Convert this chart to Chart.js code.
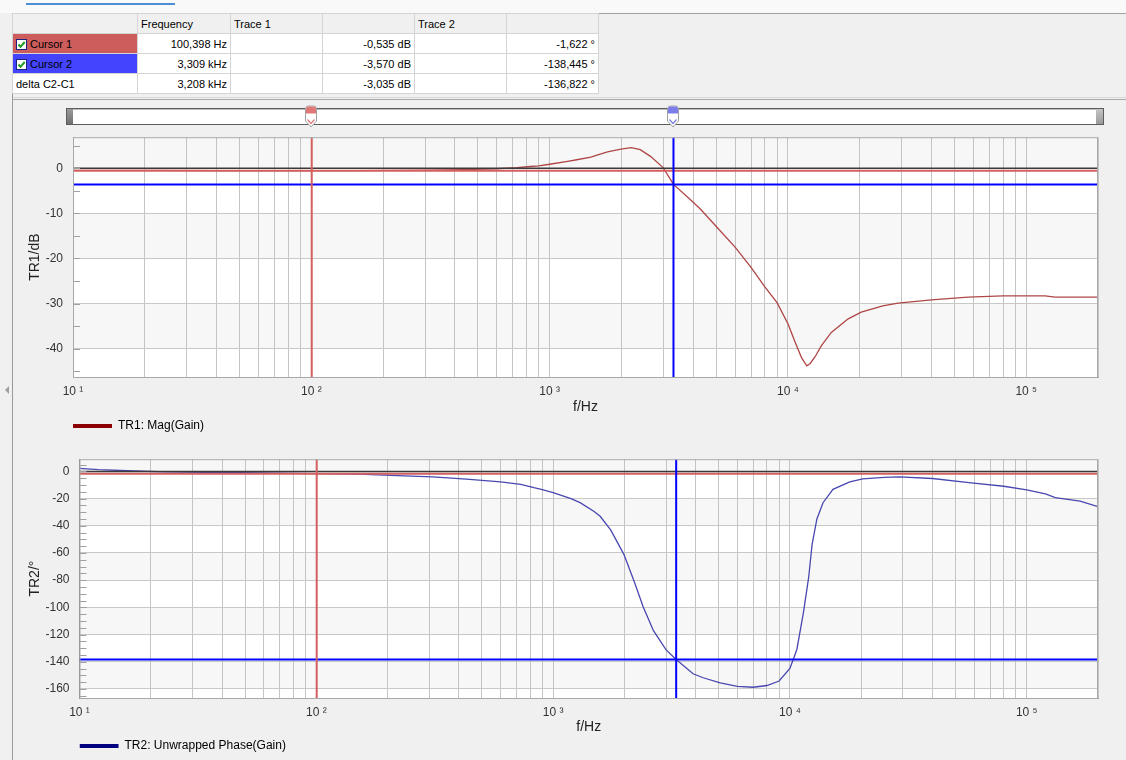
<!DOCTYPE html>
<html lang="en">
<head>
<meta charset="UTF-8">
<title>Bode 100 - Gain</title>
<script src="https://cdn.jsdelivr.net/npm/chart.js"></script>
<style>
    body {
        margin: 0;
        width: 1126px;
        height: 760px;
        overflow: hidden;
        position: relative;
        background: #f0f0f0;
        font-family: "Liberation Sans", Arial, sans-serif;
    }
    .topstrip { position: absolute; left: 0; top: 0; width: 1126px; height: 13px; background: #f9f9f9; }
    .tabline { position: absolute; left: 26px; top: 3px; width: 149px; height: 2px; background: #4d8fd6; }
    .frame-h { position: absolute; left: 12px; height: 1px; background: #a0a0a0; width: 1114px; }
    .frame-v { position: absolute; left: 12px; top: 13px; width: 1px; height: 747px; background: #9a9a9a; }
    table.cursors {
        position: absolute; left: 12px; top: 13px;
        border-collapse: collapse; table-layout: fixed;
        font-size: 11px; background: #fff;
    }
    table.cursors td {
        border: 1px solid #d4d4d4; height: 19px; padding: 0 3px;
        white-space: nowrap; overflow: hidden;
    }
    table.cursors tr.head td { background: #f0f0f0; }
    td.num { text-align: right; }
    td.c1 { background: #cd5c5c; }
    td.c2 { background: #4444ff; }
    .chk { display: inline-block; vertical-align: -2px; margin-right: 3px; }
    .slider {
        position: absolute; left: 66px; top: 108px; width: 1036px; height: 15px;
        background: #fff; border: 1px solid #5c5c5c; box-shadow: inset 0 1px 0 #bbb;
    }
    .slider .endL { position: absolute; left: 0; top: 0; width: 6px; height: 15px; background: linear-gradient(#9a9a9a, #707070); }
    .slider .endR { position: absolute; right: 0; top: 0; width: 7px; height: 15px; background: linear-gradient(#c4c4c4, #9a9a9a); }
    .thumb { position: absolute; top: 105px; }
    .chartbox { position: absolute; left: 23px; width: 1103px; }
    .splitter { position: absolute; left: 5px; top: 386px; width: 0; height: 0;
        border-top: 4px solid transparent; border-bottom: 4px solid transparent; border-right: 4px solid #a0a0a0; }
</style>
</head>
<body>
    <div class="topstrip"><div class="tabline"></div></div>
    <div class="frame-h" style="top:13px"></div>
    <div class="frame-h" style="top:97px; background:#d8d8d8"></div>
    <div class="frame-h" style="top:99px; background:#a8a8a8"></div>
    <div class="frame-v"></div>
    <div class="splitter"></div>

    <table class="cursors">
        <colgroup>
            <col style="width:125px"><col style="width:93px"><col style="width:92px">
            <col style="width:92px"><col style="width:92px"><col style="width:92px">
        </colgroup>
        <tr class="head"><td></td><td>Frequency</td><td>Trace 1</td><td></td><td>Trace 2</td><td></td></tr>
        <tr>
            <td class="c1"><svg class="chk" width="11" height="11"><rect x="0.5" y="0.5" width="10" height="10" fill="#fff" stroke="#1a237e"/><polyline points="2.5,5.5 4.5,7.8 8.7,3" fill="none" stroke="#1f9a1f" stroke-width="2"/></svg>Cursor 1</td>
            <td class="num">100,398 Hz</td><td></td><td class="num">-0,535 dB</td><td></td><td class="num">-1,622 °</td>
        </tr>
        <tr>
            <td class="c2"><svg class="chk" width="11" height="11"><rect x="0.5" y="0.5" width="10" height="10" fill="#fff" stroke="#1a237e"/><polyline points="2.5,5.5 4.5,7.8 8.7,3" fill="none" stroke="#1f9a1f" stroke-width="2"/></svg>Cursor 2</td>
            <td class="num">3,309 kHz</td><td></td><td class="num">-3,570 dB</td><td></td><td class="num">-138,445 °</td>
        </tr>
        <tr>
            <td>delta C2-C1</td>
            <td class="num">3,208 kHz</td><td></td><td class="num">-3,035 dB</td><td></td><td class="num">-136,822 °</td>
        </tr>
    </table>

    <div class="slider"><div class="endL"></div><div class="endR"></div></div>
    <svg class="thumb" style="left:304px" width="14" height="24" viewBox="0 0 14 24">
        <path d="M1.5 4 Q1.5 1 4.5 1 H9.5 Q12.5 1 12.5 4 V16 L7 22 L1.5 16 Z" fill="#fff" stroke="#a0a0a0"/>
        <path d="M2 4 Q2 1.5 4.5 1.5 H9.5 Q12 1.5 12 4 V8.5 H2 Z" fill="#e07878"/>
        <path d="M3.5 14.5 L7 18.5 L10.5 14.5" fill="none" stroke="#e07878" stroke-width="1.2"/>
    </svg>
    <svg class="thumb" style="left:666px" width="14" height="24" viewBox="0 0 14 24">
        <path d="M1.5 4 Q1.5 1 4.5 1 H9.5 Q12.5 1 12.5 4 V16 L7 22 L1.5 16 Z" fill="#fff" stroke="#a0a0a0"/>
        <path d="M2 4 Q2 1.5 4.5 1.5 H9.5 Q12 1.5 12 4 V8.5 H2 Z" fill="#7c7cea"/>
        <path d="M3.5 14.5 L7 18.5 L10.5 14.5" fill="none" stroke="#7c7cea" stroke-width="1.2"/>
    </svg>

    <div class="chartbox" style="top:120px; height:322px"><canvas id="chartMag"></canvas></div>
    <div class="chartbox" style="top:442px; height:320px"><canvas id="chartPhase"></canvas></div>

<script>
    const freqHz = [10, 12, 16, 23, 40, 70, 100, 150, 220, 310, 430, 600, 730, 830, 900, 1000,
        1190, 1300, 1490, 1580, 1750, 1990, 2200, 2400, 2650, 3000, 3309, 3900, 4300, 5080,
        6000, 7000, 8000, 9000, 10000, 10700, 11400, 12000, 12400, 13000, 13800, 15200,
        17900, 20300, 25000, 29000, 40000, 57000, 80000, 100000, 120000, 132000, 168000, 200000];
    const magDb = [-0.45, -0.45, -0.45, -0.45, -0.5, -0.5, -0.535, -0.5, -0.45, -0.4, -0.3, -0.1, 0.15, 0.4, 0.55, 0.9,
        1.55, 1.9, 2.5, 2.9, 3.65, 4.25, 4.6, 4.15, 2.65, 0.1, -3.57, -7.0, -9.1, -13.3,
        -17.5, -22.0, -26.3, -29.8, -34.5, -38.5, -42.0, -43.8, -43.3, -41.8, -39.4, -36.4,
        -33.4, -31.9, -30.5, -29.9, -29.2, -28.6, -28.3, -28.3, -28.3, -28.6, -28.6, -28.6];
    const phaseDeg = [2.2, 1.3, 0.5, -0.3, -0.8, -1.3, -1.6, -2.0, -3.1, -4.0, -5.7, -7.7, -9.5, -12.0, -13.3, -15.6,
        -20, -23, -29.5, -33, -43, -61, -81, -99.5, -117, -131.3, -138.4, -148.9, -151.8, -155.6,
        -158.1, -158.8, -157.5, -154.2, -145, -131, -104, -78, -54, -35, -23, -13.2,
        -7.7, -5.5, -4.3, -4.0, -5.2, -8.3, -10.9, -13.6, -16.5, -19.2, -21.8, -25.9];

    // cursors: [Cursor 1, Cursor 2]
    const cursorFreq = [100.398, 3309];
    const cursorMag = [-0.535, -3.570];
    const cursorPhase = [-1.622, -138.445];
    const cursorColors = ['#d35f5f', '#0000ff'];

    // axes
    const freqMin = 10, freqMax = 200000;
    const decadeValues = [10, 100, 1000, 10000, 100000];
    const decadeLabels = ['10 ¹', '10 ²', '10 ³', '10 ⁴', '10 ⁵'];
    const magRange = [-46.3, 6.9];
    const phaseRange = [-166.7, 9];

    const gridFreqs = [];
    decadeValues.forEach(d => {
        for (let m = 1; m <= 9; m++) {
            if (d * m <= freqMax) gridFreqs.push(d * m);
        }
    });

    const FONT = "'Liberation Sans', Arial, sans-serif";

    // alternating grey/white bands between the major y grid lines
    const bandsPlugin = {
        id: 'bands',
        beforeDraw(chart) {
            const {ctx, chartArea: a, scales: {y}} = chart;
            ctx.save();
            ctx.fillStyle = '#ffffff';
            ctx.fillRect(a.left, a.top, a.right - a.left, a.bottom - a.top);
            const stops = [y.max].concat(y.ticks.map(t => t.value).sort((p, q) => q - p), [y.min]);
            ctx.fillStyle = '#f7f7f7';
            for (let i = 0; i < stops.length - 1; i += 2) {
                const y1 = y.getPixelForValue(stops[i]);
                const y2 = y.getPixelForValue(stops[i + 1]);
                ctx.fillRect(a.left, y1, a.right - a.left, y2 - y1);
            }
            ctx.restore();
        },
        afterDraw(chart, args, opts) {
            const {ctx, chartArea: a, scales: {y}} = chart;
            ctx.save();
            // minor ticks on the inside of the left edge
            ctx.strokeStyle = '#a0a0a0';
            ctx.lineWidth = 1;
            const step = opts.minorStep;
            for (let v = Math.ceil(y.min / step) * step; v <= y.max; v += step) {
                const py = Math.round(y.getPixelForValue(v)) + 0.5;
                ctx.beginPath();
                ctx.moveTo(a.left, py);
                ctx.lineTo(a.left + 7, py);
                ctx.stroke();
            }
            ctx.strokeStyle = '#a8a8a8';
            ctx.strokeRect(a.left + 0.5, a.top + 0.5, a.right - a.left - 1, a.bottom - a.top);
            ctx.restore();
        }
    };

    function lineSet(points, color, width, order) {
        return {
            data: points, borderColor: color, backgroundColor: color,
            borderWidth: width, pointRadius: 0, tension: 0, order: order, fill: false
        };
    }

    function buildChart(id, opt) {
        const trace = freqHz.map((f, i) => ({x: f, y: opt.values[i]}));
        const datasets = [lineSet(trace, opt.traceColor, 1.3, 10)];
        // reference line at 0
        datasets.push(lineSet([{x: freqMin, y: 0}, {x: freqMax, y: 0}], '#3a3a3a', 1.6, 3));
        // horizontal cursor levels
        opt.cursorValues.forEach((v, i) => {
            datasets.push(lineSet([{x: freqMin, y: v}, {x: freqMax, y: v}], cursorColors[i], 2, 4 - i));
        });
        // vertical cursor lines
        cursorFreq.forEach((f, i) => {
            datasets.push(lineSet([{x: f, y: opt.range[0]}, {x: f, y: opt.range[1]}], cursorColors[i], 2, 2 - i));
        });

        return new Chart(document.getElementById(id), {
            type: 'line',
            data: {datasets: datasets},
            plugins: [bandsPlugin],
            options: {
                responsive: true,
                maintainAspectRatio: false,
                animation: false,
                layout: {padding: {top: 8, right: 28, left: 0, bottom: 0}},
                scales: {
                    x: {
                        type: 'logarithmic',
                        min: freqMin, max: freqMax,
                        afterBuildTicks: s => { s.ticks = gridFreqs.map(v => ({value: v})); },
                        afterFit: s => { s.height = opt.axisHeight; },
                        ticks: {
                            autoSkip: false, maxRotation: 0, minRotation: 0, padding: 7,
                            color: '#333',
                            font: {family: FONT, size: 12},
                            callback: v => {
                                const k = decadeValues.indexOf(v);
                                return k >= 0 ? decadeLabels[k] : '';
                            }
                        },
                        grid: {color: '#c4c4c4', lineWidth: 1, drawTicks: false},
                        border: {color: '#a0a0a0'},
                        title: {display: true, text: 'f/Hz', color: '#222', font: {family: FONT, size: 14}}
                    },
                    y: {
                        min: opt.range[0], max: opt.range[1],
                        afterFit: s => { s.width = opt.axisWidth; },
                        ticks: {
                            stepSize: opt.step, includeBounds: false, padding: 10,
                            color: '#333', font: {family: FONT, size: 12}
                        },
                        grid: {color: '#c8c8c8', lineWidth: 1, drawTicks: false},
                        border: {color: '#8a8a8a'},
                        title: {display: true, text: opt.yTitle, color: '#222', font: {family: FONT, size: 14}}
                    }
                },
                plugins: {
                    bands: {minorStep: opt.minorStep},
                    tooltip: {enabled: false},
                    legend: {
                        position: 'bottom', align: 'start', fullSize: false,
                        labels: {
                            padding: 0, boxWidth: 39, boxHeight: 4,
                            color: '#333', font: {family: FONT, size: 12},
                            generateLabels: () => [{
                                text: opt.legend, fillStyle: opt.legendColor,
                                strokeStyle: opt.legendColor, lineWidth: 0, hidden: false, datasetIndex: 0
                            }]
                        }
                    }
                }
            }
        });
    }

    buildChart('chartMag', {
        values: magDb, range: magRange, step: 10, minorStep: 5, axisWidth: 50, axisHeight: 43,
        cursorValues: cursorMag, traceColor: '#b04646',
        yTitle: 'TR1/dB', legend: 'TR1: Mag(Gain)', legendColor: '#8b0000'
    });
    buildChart('chartPhase', {
        values: phaseDeg, range: phaseRange, step: 20, minorStep: 5, axisWidth: 56.5, axisHeight: 42,
        cursorValues: cursorPhase, traceColor: '#4848b0',
        yTitle: 'TR2/°', legend: 'TR2: Unwrapped Phase(Gain)', legendColor: '#000080'
    });
</script>
</body>
</html>
